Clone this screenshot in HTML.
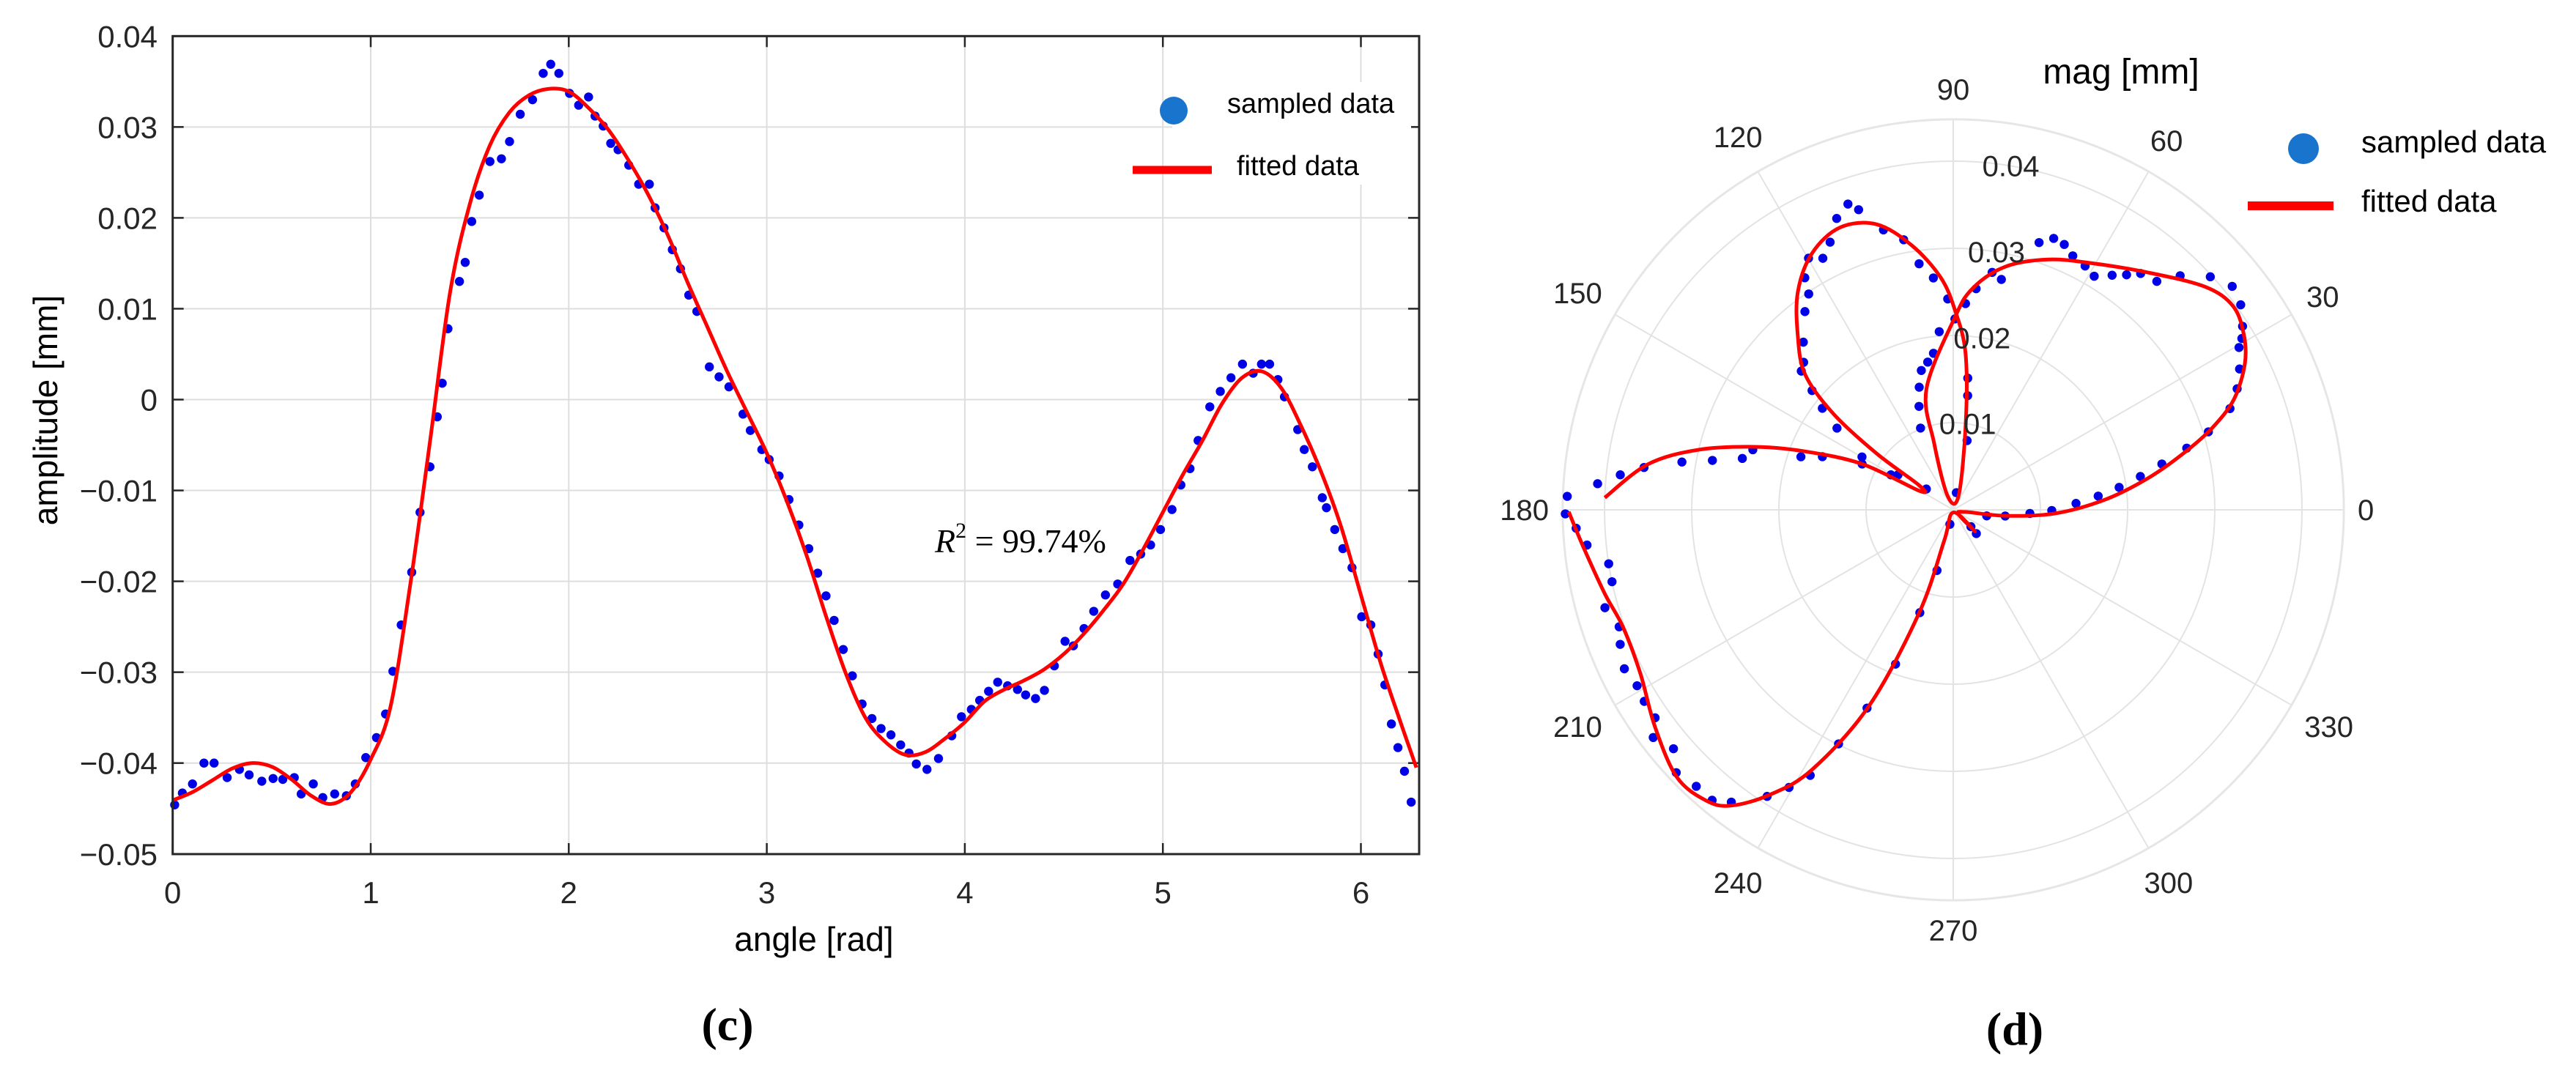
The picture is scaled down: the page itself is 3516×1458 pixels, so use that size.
<!DOCTYPE html>
<html><head><meta charset="utf-8">
<style>
html,body{margin:0;padding:0;background:#fff;}
svg{display:block;}
text{font-family:"Liberation Sans",sans-serif;}
</style></head>
<body>
<svg id="fig" width="3516" height="1458" viewBox="0 0 3516 1458" xmlns="http://www.w3.org/2000/svg">
<rect x="0" y="0" width="3516" height="1458" fill="#fff"/>
<g id="left"></g>
<g id="right"></g>
<text x="993" y="1420" text-anchor="middle" font-size="64" font-weight="bold" style="font-family:'Liberation Serif',serif">(c)</text>
<text x="2750" y="1426" text-anchor="middle" font-size="64" font-weight="bold" style="font-family:'Liberation Serif',serif">(d)</text>
</svg>
<script>
// ---------- Left chart data ----------
const fitAngle = [0,0.1,0.2,0.3,0.4,0.5,0.6,0.7,0.8,0.9,1.0,1.1,1.2,1.3,1.4,1.5,1.6,1.7,1.8,1.9,2.0,2.1,2.2,2.3,2.4,2.5,2.6,2.7,2.8,2.9,3.0,3.1,3.2,3.3,3.4,3.5,3.6,3.7,3.8,3.9,4.0,4.1,4.2,4.3,4.4,4.5,4.6,4.7,4.8,4.9,5.0,5.1,5.2,5.3,5.4,5.5,5.6,5.7,5.8,5.9,6.0,6.1,6.2,6.28];
const fitAmp = [-0.0441,-0.0432,-0.0419,-0.0406,-0.0400,-0.0404,-0.0418,-0.0436,-0.0445,-0.0432,-0.0396,-0.0338,-0.0203,-0.0045,0.0117,0.0215,0.0279,0.0316,0.0335,0.0342,0.0339,0.0321,0.0297,0.0264,0.0226,0.0181,0.0129,0.0080,0.0031,-0.0014,-0.0059,-0.0111,-0.0171,-0.0239,-0.0302,-0.0351,-0.0377,-0.0391,-0.0388,-0.0373,-0.0355,-0.0332,-0.0319,-0.0309,-0.0297,-0.0280,-0.0258,-0.0232,-0.0203,-0.0165,-0.0124,-0.0083,-0.0045,-0.0004,0.0024,0.0031,0.0012,-0.0030,-0.0080,-0.0140,-0.0215,-0.0290,-0.0355,-0.0405];
const sampAngle = [0.010,0.049,0.100,0.158,0.209,0.275,0.337,0.386,0.450,0.507,0.556,0.614,0.649,0.710,0.758,0.818,0.877,0.922,0.975,1.029,1.075,1.112,1.154,1.207,1.249,1.299,1.336,1.361,1.390,1.448,1.477,1.510,1.548,1.602,1.660,1.701,1.755,1.817,1.871,1.909,1.950,2.004,2.050,2.100,2.133,2.174,2.212,2.249,2.303,2.353,2.407,2.436,2.481,2.523,2.564,2.606,2.647,2.710,2.759,2.809,2.880,2.917,2.975,3.012,3.062,3.112,3.162,3.212,3.257,3.299,3.340,3.386,3.432,3.481,3.531,3.577,3.627,3.676,3.718,3.755,3.809,3.867,3.934,3.983,4.033,4.075,4.120,4.166,4.216,4.266,4.307,4.357,4.402,4.452,4.506,4.548,4.602,4.651,4.710,4.772,4.834,4.888,4.938,4.988,5.046,5.091,5.137,5.178,5.237,5.290,5.344,5.402,5.456,5.498,5.539,5.581,5.614,5.681,5.714,5.755,5.805,5.826,5.868,5.909,5.955,6.004,6.050,6.087,6.121,6.154,6.187,6.220,6.254];
const sampAmp = [-0.0446,-0.0433,-0.0423,-0.0400,-0.0400,-0.0416,-0.0407,-0.0413,-0.0420,-0.0417,-0.0418,-0.0416,-0.0434,-0.0423,-0.0438,-0.0434,-0.0436,-0.0423,-0.0394,-0.0372,-0.0346,-0.0299,-0.0248,-0.0190,-0.0124,-0.0074,-0.0019,0.0018,0.0078,0.0130,0.0151,0.0196,0.0225,0.0262,0.0265,0.0284,0.0314,0.0330,0.0359,0.0369,0.0359,0.0337,0.0324,0.0333,0.0312,0.0301,0.0282,0.0275,0.0258,0.0237,0.0237,0.0211,0.0189,0.0165,0.0144,0.0115,0.0097,0.0036,0.0025,0.0014,-0.0016,-0.0034,-0.0055,-0.0066,-0.0084,-0.0110,-0.0138,-0.0164,-0.0191,-0.0216,-0.0243,-0.0275,-0.0304,-0.0335,-0.0351,-0.0362,-0.0369,-0.0380,-0.0389,-0.0401,-0.0407,-0.0395,-0.0370,-0.0349,-0.0341,-0.0331,-0.0321,-0.0311,-0.0315,-0.0319,-0.0325,-0.0329,-0.0320,-0.0293,-0.0266,-0.0271,-0.0252,-0.0233,-0.0215,-0.0203,-0.0177,-0.0170,-0.0160,-0.0143,-0.0121,-0.0094,-0.0076,-0.0045,-0.0008,0.0009,0.0024,0.0039,0.0029,0.0039,0.0039,0.0022,0.0003,-0.0033,-0.0055,-0.0074,-0.0108,-0.0119,-0.0143,-0.0164,-0.0185,-0.0239,-0.0248,-0.0280,-0.0314,-0.0357,-0.0383,-0.0409,-0.0443];
const xTicks = [0,1,2,3,4,5,6];
const xTickLabels = ["0","1","2","3","4","5","6"];
const yTicks = [0.04,0.03,0.02,0.01,0,-0.01,-0.02,-0.03,-0.04,-0.05];
const yTickLabels = ["0.04","0.03","0.02","0.01","0","\u22120.01","\u22120.02","\u22120.03","\u22120.04","\u22120.05"];

// ---------- Polar chart data ----------
const polarFitDeg = [180.3,185.9,193.6,199.5,207.6,216,224,229.5,233,237.2,241.5,246.8,251.7,253.7,270,315,320,350,353.5,358,3.8,9.2,13.8,17.5,21.5,26.6,31,36,41.5,50.7,60.9,69.3,78,85,89.5,102.5,106,112,69,81.7,85.5,89.5,93.1,98.9,105,111.8,118.8,125.5,131.7,137.6,141.3,143.7,144.3,150.8,153.3,158.5,162.4,166.8,171.5,178];
const polarFitMag = [0.0441,0.0426,0.0411,0.0402,0.0405,0.0423,0.0441,0.0438,0.0425,0.0389,0.0339,0.0244,0.0124,0.0037,0.0003,0.0035,0.0008,0.0014,0.0060,0.0117,0.0174,0.0226,0.0272,0.0311,0.0346,0.0374,0.0389,0.0397,0.0386,0.0352,0.0324,0.0307,0.0285,0.0255,0.0221,0.0142,0.0080,0.0017,0.0017,0.0099,0.0180,0.0229,0.0267,0.0307,0.0339,0.0349,0.0336,0.0307,0.0268,0.0230,0.0176,0.0109,0.0048,0.0045,0.0117,0.0183,0.0239,0.0301,0.0354,0.0400];
const polarSampDeg = [349.7,353.2,357.3,359.6,3.0,5.4,7.7,10.1,12.4,14.8,17.0,20.1,23.1,26.2,29.6,30.7,32.4,35.5,38.7,42.2,45.9,48.3,51.6,53.6,55.9,58.9,61.6,64.8,67.3,69.7,72.2,78.2,80.7,84.1,86.6,89.5,94.5,97.2,99.8,102.9,105.5,108.3,111.8,79.8,78.7,82.8,83.7,91.5,94.9,97.9,100.4,104,107.5,109,111.8,114.7,117.4,119.9,122.6,123.8,126.8,131.8,135.4,137.6,139.8,142.2,144.9,149.9,147.7,142.3,178,175.8,174,172.2,170,168.4,166.3,163.3,160.8,157.9,153.3,150.7,180.6,182.8,185.5,188.9,191.9,195.7,199.3,202,205.8,209.1,211.8,214.9,217.2,220.5,223.5,227.1,230.3,232.8,237,239.4,241.7,243.9,246.5,249.5,252,255,257,314.2,316.4];
const polarSampMag = [0.0039,0.0060,0.0088,0.0113,0.0141,0.0167,0.0192,0.0218,0.0245,0.0277,0.0306,0.0338,0.0354,0.0366,0.0377,0.0385,0.0393,0.0405,0.0410,0.0398,0.0374,0.0351,0.0346,0.0335,0.0325,0.0313,0.0318,0.0322,0.0330,0.0332,0.0322,0.0270,0.0276,0.0255,0.0237,0.0219,0.0205,0.0181,0.0172,0.0164,0.0146,0.0125,0.0101,0.0020,0.0081,0.0132,0.0152,0.0242,0.0267,0.0285,0.0315,0.0331,0.0361,0.0371,0.0360,0.0338,0.0325,0.0333,0.0316,0.0298,0.0284,0.0258,0.0241,0.0236,0.0212,0.0190,0.0163,0.0121,0.0075,0.0039,0.0443,0.0409,0.0384,0.0358,0.0316,0.0282,0.0249,0.0240,0.0185,0.0162,0.0117,0.0082,0.0445,0.0433,0.0422,0.0400,0.0400,0.0415,0.0406,0.0412,0.0419,0.0415,0.0417,0.0417,0.0432,0.0422,0.0438,0.0433,0.0433,0.0421,0.0392,0.0370,0.0346,0.0299,0.0248,0.0189,0.0124,0.0072,0.0017,0.0038,0.0028];
const rRings = [0.01,0.02,0.03,0.04];
const rRingLabels = ["0.01","0.02","0.03","0.04"];
const thetaTicks = [0,30,60,90,120,150,180,210,240,270,300,330];
const thetaTickLabels = ["0","30","60","90","120","150","180","210","240","270","300","330"];

const NS = "http://www.w3.org/2000/svg";
function mk(parent, tag, attrs, txt) {
  const e = document.createElementNS(NS, tag);
  for (const k in attrs) e.setAttribute(k, attrs[k]);
  if (txt !== undefined) e.textContent = txt;
  parent.appendChild(e);
  return e;
}
function smoothPath(pts) {
  let d = "M" + pts[0][0].toFixed(1) + "," + pts[0][1].toFixed(1);
  for (let i = 0; i < pts.length - 1; i++) {
    const p0 = pts[Math.max(0, i - 1)], p1 = pts[i], p2 = pts[i + 1], p3 = pts[Math.min(pts.length - 1, i + 2)];
    const c1x = p1[0] + (p2[0] - p0[0]) / 6, c1y = p1[1] + (p2[1] - p0[1]) / 6;
    const c2x = p2[0] - (p3[0] - p1[0]) / 6, c2y = p2[1] - (p3[1] - p1[1]) / 6;
    d += " C" + c1x.toFixed(1) + "," + c1y.toFixed(1) + " " + c2x.toFixed(1) + "," + c2y.toFixed(1) + " " + p2[0].toFixed(1) + "," + p2[1].toFixed(1);
  }
  return d;
}

// ---------- Left chart ----------
const L = document.getElementById("left");
const X0 = 235.7, XS = 270.3, Y0 = 49.3, YS = 12405, XMAX = 1937, YBOT = 1166;
const xs = v => X0 + v * XS;
const ys = v => Y0 + (0.04 - v) * YS;

xTicks.forEach((t, i) => {
  const x = xs(t);
  const g = mk(L, "line", {x1: x, y1: Y0, x2: x, y2: YBOT, stroke: "#dedede", "stroke-width": 2});
  
  
  const tb = mk(L, "line", {x1: x, y1: YBOT, x2: x, y2: YBOT - 15, stroke: "#262626", "stroke-width": 2.5});
  
  
  const tt = mk(L, "line", {x1: x, y1: Y0, x2: x, y2: Y0 + 15, stroke: "#262626", "stroke-width": 2.5});
  
  
  const lb = mk(L, "text", {x: x, y: 1233, "text-anchor": "middle", "font-size": 42, fill: "#262626"}, xTickLabels[i]);
  
  
});
yTicks.forEach((t, i) => {
  const y = ys(t);
  const g = mk(L, "line", {x1: X0, y1: y, x2: XMAX, y2: y, stroke: "#dedede", "stroke-width": 2});
  
  
  const tl = mk(L, "line", {x1: X0, y1: y, x2: X0 + 15, y2: y, stroke: "#262626", "stroke-width": 2.5});
  
  
  const tr = mk(L, "line", {x1: XMAX, y1: y, x2: XMAX - 15, y2: y, stroke: "#262626", "stroke-width": 2.5});
  
  
  const lb = mk(L, "text", {x: 215, y: y + 15, "text-anchor": "end", "font-size": 42, fill: "#262626"}, yTickLabels[i]);
  
  
});
const lbg = mk(L, "rect", {x: 1600, y: 112, width: 326, height: 140, fill: "#fff"});



sampAngle.forEach((a, i) => {
  const c = mk(L, "circle", {cx: xs(a), cy: ys(sampAmp[i]), r: 6.2, fill: "#0000e6"});
  
  
});
const fitPts = fitAngle.map((a, i) => [xs(a), ys(fitAmp[i])]);
const fl = mk(L, "path", {d: smoothPath(fitPts), fill: "none", stroke: "#ff0000", "stroke-width": 5, "stroke-linejoin": "round"});



const box = mk(L, "rect", {x: X0, y: Y0, width: XMAX - X0, height: YBOT - Y0, fill: "none", stroke: "#262626", "stroke-width": 3});



const lm = mk(L, "circle", {cx: 1602, cy: 151, r: 19, fill: "#1874cd"});


const lt1 = mk(L, "text", {x: 1675, y: 154, "font-size": 38, fill: "#000"}, "sampled data");


const ll = mk(L, "line", {x1: 1546, y1: 232, x2: 1654, y2: 232, stroke: "#ff0000", "stroke-width": 11});


const lt2 = mk(L, "text", {x: 1688, y: 239, "font-size": 38, fill: "#000"}, "fitted data");



const xt = mk(L, "text", {x: 1111, y: 1298, "text-anchor": "middle", "font-size": 46, fill: "#000"}, "angle [rad]");


const yt = mk(L, "text", {x: 0, y: 0, "text-anchor": "middle", "font-size": 46, fill: "#000", transform: "translate(78,560) rotate(-90)"}, "amplitude [mm]");


const r2 = mk(L, "text", {x: 1276, y: 754, "font-size": 46, fill: "#000", style: "font-family:'Liberation Serif',serif"});


mk(r2, "tspan", {"font-style": "italic"}, "R");
mk(r2, "tspan", {dy: -20, "font-size": 30}, "2");
mk(r2, "tspan", {dy: 20}, " = 99.74%");

// ---------- Polar chart ----------
const P = document.getElementById("right");
const CX = 2666, CY = 696, RS = 11900, RMAX = 0.0448;
const pr = m => m * RS;
const pxy = (deg, m) => [CX + pr(m) * Math.cos(deg * Math.PI / 180), CY - pr(m) * Math.sin(deg * Math.PI / 180)];

thetaTicks.forEach((t, i) => {
  const e = pxy(t, RMAX);
  const sp = mk(P, "line", {x1: CX, y1: CY, x2: e[0], y2: e[1], stroke: "#e3e3e3", "stroke-width": 2});
  
  
  const lab = thetaTickLabels[i];
  const w = lab.length * 0.556 * 40;
  const rad = t * Math.PI / 180;
  const R = 552 + 22 * Math.abs(Math.sin(rad)) + (w / 2) * Math.abs(Math.cos(rad));
  const tx = mk(P, "text", {x: CX + R * Math.cos(rad), y: CY - R * Math.sin(rad) + 14, "text-anchor": "middle", "font-size": 40, fill: "#262626"}, lab);
  
  
});
rRings.forEach((r, i) => {
  const c = mk(P, "circle", {cx: CX, cy: CY, r: pr(r), fill: "none", stroke: "#e3e3e3", "stroke-width": 2});
  
  
});
const outer = mk(P, "circle", {cx: CX, cy: CY, r: pr(RMAX), fill: "none", stroke: "#e6e6e6", "stroke-width": 3});



polarSampDeg.forEach((d, i) => {
  const p = pxy(d, polarSampMag[i]);
  const c = mk(P, "circle", {cx: p[0], cy: p[1], r: 6.2, fill: "#0000e6"});
  
  
});
const ppts = polarFitDeg.map((d, i) => pxy(d, polarFitMag[i]));
const pf = mk(P, "path", {d: smoothPath(ppts), fill: "none", stroke: "#ff0000", "stroke-width": 5, "stroke-linejoin": "round"});



rRings.forEach((r, i) => {
  const p = pxy(80.5, r);
  const t = mk(P, "text", {x: p[0], y: p[1] + 14, "text-anchor": "middle", "font-size": 40, fill: "#262626"}, rRingLabels[i]);
  
  
});

const pt = mk(P, "text", {x: 2895, y: 114, "text-anchor": "middle", "font-size": 48, fill: "#000"}, "mag [mm]");


const pm = mk(P, "circle", {cx: 3144, cy: 203, r: 21, fill: "#1874cd"});


const pt1 = mk(P, "text", {x: 3223, y: 208, "font-size": 42, fill: "#000"}, "sampled data");


const pl = mk(P, "line", {x1: 3068, y1: 281, x2: 3185, y2: 281, stroke: "#ff0000", "stroke-width": 12});


const pt2 = mk(P, "text", {x: 3223, y: 289, "font-size": 42, fill: "#000"}, "fitted data");


</script>
</body></html>
